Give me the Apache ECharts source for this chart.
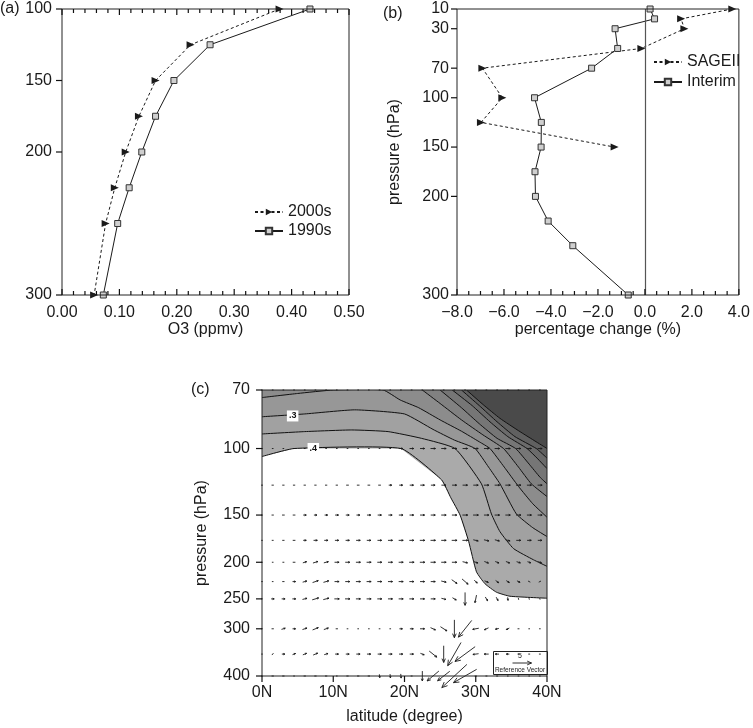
<!DOCTYPE html>
<html>
<head>
<meta charset="utf-8">
<script src="https://cdn.jsdelivr.net/npm/echarts@6/dist/echarts.min.js"></script>
<style>
html,body{margin:0;padding:0;background:#fff}
#chart{width:753px;height:728px}
</style>
</head>
<body>
<div id="chart"></div>
<script>
// (a) ozone profile
var pLevelsA = [100,125,150,175,200,225,250,300];
var o3_2000s = [0.379,0.224,0.163,0.134,0.111,0.092,0.076,0.056];
var o3_1990s = [0.432,0.258,0.195,0.163,0.139,0.117,0.097,0.072];
var xTicksA = [0,0.1,0.2,0.3,0.4,0.5];
var yTicksA = [100,150,200,300];

// (b) percentage change
var pLevelsSage = [10,20,30,50,70,100,125,150];
var changeSage = [3.72,1.54,1.68,-0.15,-6.92,-6.07,-6.98,-1.29];
var pLevelsInterim = [10,20,30,50,70,100,125,150,175,200,225,250,300];
var changeInterim = [0.22,0.41,-1.27,-1.16,-2.27,-4.70,-4.41,-4.42,-4.68,-4.66,-4.12,-3.07,-0.71];
var xTicksB = [-8,-6,-4,-2,0,2,4];
var yTicksB = [10,30,70,100,150,200,300];

// (c) contour lines, [latitude, hPa]
var contourLevels = [0.40,0.35,0.30,0.25,0.20,0.15,0.10,0.05,0.00];
var contour1 = [[0,105],[4.5,100],[19.5,100],[25.2,121],[26.5,135],[27.8,150],[29,176],[30.1,212],[31.3,228],[32.9,240],[34.8,246],[40,249]];
var contour2 = [[0,91.5],[6,90.2],[12.6,89.3],[17.7,90.2],[22.4,94],[27.1,100],[30.8,124],[32.2,149],[33.4,166],[35.3,184],[38.1,197],[40,205]];
var contour3 = [[0,82.4],[6,81],[13,79],[20,81],[24,89],[27,95],[29.9,100],[31.8,112],[33.4,124],[35.7,149],[38,162],[40,171]];
var contour4 = [[0,73.3],[5,71.5],[10,70],[17,70],[19.4,74.4],[22,78],[25,84],[28,90],[30.5,96],[32,100],[34,112],[36,126],[38,140],[40,152]];
var contour5 = [[22.5,70],[25,76],[28,84],[31,92],[33.9,100],[36,112],[37.8,124],[40,134]];
var contour6 = [[25,70],[28,78],[30.5,86],[33,94],[35.6,100],[37.5,110],[39,119],[40,124]];
var contour7 = [[26.7,70],[29.5,77],[32,85],[34.5,93],[37.2,100],[38.6,106],[40,113]];
var contour8 = [[28,70],[30.5,77],[33,85],[35.5,93],[38.5,100],[40,106]];
var contour9 = [[28.7,70],[31.1,76.7],[33.4,83.2],[36.2,90.2],[40,100]];
var contourLabels = [[4.3,82,'.3'],[7.2,100,'.4']];
var xTicksC = [0,10,20,30,40];
var yTicksC = [70,100,150,200,250,300,400];

// (c) wind vectors: columns every 1.5 degrees, one row per level
var vecLats = [0,1.5,3,4.5,6,7.5,9,10.5,12,13.5,15,16.5,18,19.5,21,22.5,24,25.5,27,28.5,30,31.5,33,34.5,36,37.5,39];
var vecLevels = [70,100,125,150,175,200,225,250,300,350,400];
var u070 = [0.3,0.3,0.3,0.3,0.3,0.3,0.3,0.3,0.3,0.3,0.3,0.3,0.3,0.3,0.3,0.3,0.3,0.3,0.3,0.3,0.3,0.3,0.3,0.3,0.3,0.3,0.3];
var w070 = [0,0,0,0,0,0,0,0,0,0,0,0,0,0,0,0,0,0,0,0,0,0,0,0,0,0,0];
var u100 = [0.3,0.3,0.3,0.3,0.3,0.3,0.3,0.3,0.3,0.3,0.3,0.3,0.3,1.0,1.1,1.2,1.3,1.3,1.3,1.3,1.3,1.3,1.3,1.3,1.2,1.2,1.2];
var w100 = [0,0,0,0,0,0,0,0,0,0,0,0,0,0,0,0,0,0,0,0,0,0,0,0,0,0,0];
var u125 = [0.5,0.6,0.6,0.6,0.6,0.6,0.6,0.6,0.7,0.7,0.7,0.7,0.8,0.9,1.0,1.1,1.1,1.2,1.2,1.3,1.3,1.3,1.3,1.3,1.3,1.2,1.2];
var w125 = [0,0,0,0,0,0,0,0,0,0,0,0,0,0,0,0,0,0,0,0,0,0,0,0,0,0,0];
var u150 = [0.5,0.6,0.7,0.7,0.8,0.8,0.8,0.9,0.9,0.9,1.0,1.0,1.0,1.1,1.1,1.2,1.2,1.3,1.3,1.4,1.4,1.3,1.3,1.3,1.3,1.2,1.2];
var w150 = [0,0,0,0,0,0,0,0,0,0,0,0,0,0,0,0,0,0,0,0,0,0,0,0,0,0,0];
var u175 = [0.3,0.5,0.6,0.7,0.8,1.0,1.0,1.0,1.0,1.1,1.1,1.1,1.2,1.2,1.2,1.3,1.3,1.3,1.4,1.4,1.3,1.3,1.2,1.2,1.2,1.1,1.1];
var w175 = [0,0,0,0,0,0,0,0,0,0,0,0,0,0,0,0,0,0,0,0,-0.3,-0.3,-0.3,-0.3,0,0,0];
var u200 = [0.3,0.4,0.5,0.7,1.0,1.3,1.2,1.2,1.2,1.2,1.2,1.2,1.2,1.2,1.3,1.3,1.3,1.3,1.3,1.3,1.2,1.1,1.0,1.0,1.0,0.9,0.9];
var w200 = [0,0,0,0,0.3,0.4,0.3,0,0,0,0,0,0,0,0,0,0,0,0,-0.3,-0.4,-0.4,-0.4,-0.4,-0.3,-0.3,-0.3];
var u225 = [0.3,0.4,0.6,0.8,1.1,1.5,1.4,1.2,1.2,1.2,1.2,1.2,1.2,1.2,1.2,1.2,1.2,1.3,1.4,1.6,0.8,1.0,0.8,0.8,0.8,0.6,0.6];
var w225 = [0,0,0,0,0.3,0.5,0.4,0,0,0,0,0,0,0,0,0,0,-0.3,-1.0,-1.4,-0.8,-0.4,-0.6,-0.5,-0.4,-0.3,0.3];
var u250 = [0.3,0.8,0.9,0.9,1.2,1.7,1.5,1.3,1.3,1.2,1.2,1.2,1.2,1.2,1.2,1.2,1.2,1.2,1.0,0,-0.4,0.6,0.5,0.1,0.1,0.1,0.1];
var w250 = [0,0,0,0,0.3,0.5,0.4,0,0,0,0,0,0,0,0,0,0,-0.3,-0.6,-3.4,-2.0,-1.0,-0.9,-0.8,-0.5,-0.4,-0.4];
var u300 = [0.3,0.6,1.0,0.8,1.2,1.5,1.2,0.6,0.3,0.3,0.3,0.3,0.3,0.8,0.9,1.2,1.3,1.7,0,-3.5,-1.6,-1.1,-0.9,-0.8,-0.5,-0.3,-0.3];
var w300 = [0,0,0.3,0,0.4,0.6,0.4,0,0,0,0,0,0,0,0,0,-0.6,-1.1,-4.7,-4.4,-0.3,-0.5,-0.2,-0.4,0,0,0];
var u350 = [0.3,0.4,0.8,0.8,1.0,1.2,1.0,0.9,0.9,1.0,1.0,1.0,1.0,1.0,1.0,1.0,2.0,0,-3.5,-5.3,-1.5,-1.2,-1.0,-0.8,-0.5,-0.5,-0.5];
var w350 = [0,0.5,0,0.3,0.4,0.5,0.3,0,0,0,0,0,0,0,0,-0.4,-1.6,-4.4,-6.1,-3.9,-0.2,0,0,0,0,0,0];
var u400 = [0.3,0.6,0.6,0.3,0.6,0.6,0.6,0.3,0.6,0.6,0.6,0.1,0.1,0.1,0.5,0,-3.1,-3.2,-6.6,-6.1,-0.6,-0.5,-0.5,-0.4,-0.4,-0.4,-0.4];
var w400 = [0,0,0,0,0,0,0,0,0,0,0,-0.9,-1.0,-1.1,0,-2.6,-2.6,-2.5,-6.1,-3.5,0,0,0,0,0,0,0];
var refVectorValue = 5;

var FONT = 'Liberation Sans';
var INK = '#1a1a1a';
var VEC_SCALE = 3.8; // px per unit
var SHADES = ['#aaaaaa','#a1a1a1','#979797','#8c8c8c','#818181','#767676','#6b6b6b','#606060','#4a4a4a'];

var contourLines = [contour1,contour2,contour3,contour4,contour5,contour6,contour7,contour8,contour9];
var uRows = [u070,u100,u125,u150,u175,u200,u225,u250,u300,u350,u400];
var wRows = [w070,w100,w125,w150,w175,w200,w225,w250,w300,w350,w400];

function zip(xs, ys){
	var out = [];
	for (var i = 0; i < xs.length; i++) out.push([xs[i], ys[i]]);
	return out;
}

var vecData = [];
for (var r = 0; r < vecLevels.length; r++){
	for (var i = 0; i < vecLats.length; i++){
		vecData.push([vecLats[i], vecLevels[r], uRows[r][i], wRows[r][i]]);
	}
}

// tick marks: [x, y, dx, dy] anchored on the frame, drawn via the axes' scales
function subdivide(ticks, n){
	var out = [];
	for (var i = 0; i < ticks.length - 1; i++){
		for (var k = 1; k < n; k++) out.push(ticks[i] + (ticks[i+1] - ticks[i]) * k / n);
	}
	return out;
}
function xMarks(vals, yAt, dy){ return vals.map(function(v){ return [v, yAt, 0, dy]; }); }
function yMarks(vals, xAt, dx){ return vals.map(function(v){ return [xAt, v, dx, 0]; }); }

var marksA = [].concat(
	xMarks(xTicksA, 300, -6), xMarks(subdivide(xTicksA, 5), 300, -4),
	xMarks(xTicksA, 100, 6), xMarks(subdivide(xTicksA, 5), 100, 4),
	yMarks(yTicksA, 0, -6));
var marksB = [].concat(
	xMarks(xTicksB, 300, -6), xMarks(subdivide(xTicksB, 4), 300, -4),
	yMarks(yTicksB, -8, -6));
var marksC = [].concat(xMarks(xTicksC, 400, 6), yMarks(yTicksC, 0, -6));

var triRight = 'path://M0,0L10,5L0,10Z';

function arrowShapes(cx, cy, dx, dy, lw){
	var len = Math.sqrt(dx*dx + dy*dy);
	if (len < 1.6){
		var s = len > 0 ? 1.6/len : 0;
		if (s){ dx *= s; dy *= s; } else { dx = 1.6; dy = 0; }
		len = 1.6;
	}
	var x0 = cx - dx/2, y0 = cy - dy/2, x1 = cx + dx/2, y1 = cy + dy/2;
	var kids = [{type:'line', shape:{x1:x0,y1:y0,x2:x1,y2:y1}, style:{stroke:INK,lineWidth:lw}}];
	if (len > 3){
		var hl = Math.min(Math.max(len*0.25, 1.8), 6);
		var ang = Math.atan2(dy, dx), a = 0.42;
		kids.push({type:'polyline', shape:{points:[
			[x1 - hl*Math.cos(ang - a), y1 - hl*Math.sin(ang - a)],
			[x1, y1],
			[x1 - hl*Math.cos(ang + a), y1 - hl*Math.sin(ang + a)]
		]}, style:{stroke:INK,lineWidth:lw,fill:null}});
	}
	return kids;
}

function renderContour(params, api){
	var k = params.dataIndex;
	var pts = contourLines[k].map(function(d){ return api.coord(d); });
	var poly = pts.concat([api.coord([40,70]), api.coord([0,70])]);
	return {type:'group', children:[
		{type:'polygon', shape:{points:poly}, style:{fill:SHADES[k]}},
		{type:'polyline', shape:{points:pts, smooth:0.15}, style:{stroke:'#111',lineWidth:1,fill:null}}
	]};
}

function renderVector(params, api){
	var c = api.coord([api.value(0), api.value(1)]);
	var dx = api.value(2) * VEC_SCALE, dy = -api.value(3) * VEC_SCALE;
	return {type:'group', children: arrowShapes(c[0], c[1], dx, dy, 0.9)};
}

function renderTick(params, api){
	var c = api.coord([api.value(0), api.value(1)]);
	var x = c[0], y = c[1];
	var dx = api.value(2), dy = api.value(3);
	return {type:'rect', shape:{
		x: dx === 0 ? x - 0.6 : Math.min(x, x + dx),
		y: dy === 0 ? y - 0.6 : Math.min(y, y + dy),
		width: dx === 0 ? 1.2 : Math.abs(dx),
		height: dy === 0 ? 1.2 : Math.abs(dy)
	}, style:{fill:'#111'}};
}

function renderLabel(params, api){
	var c = api.coord([api.value(0), api.value(1)]);
	return {type:'text', x:c[0], y:c[1], style:{
		text: contourLabels[params.dataIndex][2], fontSize:9, fontWeight:'bold', fontFamily:FONT, fill:'#111',
		align:'center', verticalAlign:'middle', backgroundColor:'#fff', padding:[1,2]
	}};
}

function tickSeries(xi, yi, data){
	return {type:'custom', xAxisIndex:xi, yAxisIndex:yi, renderItem:renderTick, clip:false, z:11, silent:true,
		encode:{x:0, y:1}, dimensions:['x','y','dx','dy'], data:data};
}

var axisText = {fontSize:16, fontFamily:FONT, color:INK};
var nameText = {fontSize:16, fontFamily:FONT, color:INK};
var noLine = {show:false};
var noTick = {show:false};

var refLen = refVectorValue * VEC_SCALE;
var refX = 520, refY = 663;

var option = {
	animation:false,
	backgroundColor:'#fff',
	textStyle:{fontFamily:FONT},
	grid:[
		{left:62, top:9, width:287, height:286, show:true, borderColor:'#222', borderWidth:1, z:10},
		{left:457, top:9, width:285, height:286, show:true, borderColor:'#222', borderWidth:1, z:10},
		{left:262, top:390, width:285, height:286, show:true, borderColor:'#222', borderWidth:1, z:10}
	],
	legend:[
		{data:['2000s','1990s'], orient:'vertical', left:254, top:204, padding:0, itemGap:3,
		 itemWidth:28, itemHeight:8, selectedMode:false, textStyle:{fontSize:16, fontFamily:FONT, color:INK}},
		{data:['SAGEII','Interim'], orient:'vertical', left:653, top:54, padding:0, itemGap:4,
		 itemWidth:28, itemHeight:8, selectedMode:false, textStyle:{fontSize:16, fontFamily:FONT, color:INK}}
	],
	xAxis:[
		{type:'value', gridIndex:0, min:0, max:0.5, interval:0.1, name:'O3 (ppmv)', nameLocation:'middle', nameGap:19,
		 nameTextStyle:nameText, axisLine:noLine, axisTick:noTick, splitLine:{show:false},
		 axisLabel:Object.assign({margin:10, formatter:function(v){ return v.toFixed(2); }}, axisText)},
		{type:'value', gridIndex:1, min:-8, max:4, interval:2, name:'percentage change (%)', nameLocation:'middle', nameGap:19,
		 nameTextStyle:nameText, axisLine:noLine, axisTick:noTick, splitLine:{show:false},
		 axisLabel:Object.assign({margin:10, formatter:function(v){ return v.toFixed(1).replace('-','\u2212'); }}, axisText)},
		{type:'value', gridIndex:2, min:0, max:40, interval:10, name:'latitude (degree)', nameLocation:'middle', nameGap:33,
		 nameTextStyle:nameText, axisLine:noLine, axisTick:noTick, splitLine:{show:false},
		 axisLabel:Object.assign({margin:9, formatter:function(v){ return v + 'N'; }}, axisText)}
	],
	yAxis:[
		{type:'value', gridIndex:0, min:100, max:300, inverse:true, axisLine:noLine, axisTick:noTick, splitLine:{show:false},
		 axisLabel:Object.assign({margin:10, customValues:yTicksA}, axisText)},
		{type:'value', gridIndex:1, min:10, max:300, inverse:true, name:'pressure (hPa)', nameLocation:'middle', nameGap:54,
		 nameTextStyle:nameText, axisLine:noLine, axisTick:noTick, splitLine:{show:false},
		 axisLabel:Object.assign({margin:8, customValues:yTicksB}, axisText)},
		{type:'log', logBase:10, gridIndex:2, min:70, max:400, inverse:true, name:'pressure (hPa)', nameLocation:'middle', nameGap:52,
		 nameTextStyle:nameText, axisLine:noLine, axisTick:noTick, splitLine:{show:false},
		 axisLabel:Object.assign({margin:12, customValues:yTicksC}, axisText)}
	],
	series:[
		{name:'2000s', type:'line', xAxisIndex:0, yAxisIndex:0, data:zip(o3_2000s, pLevelsA),
		 symbol:triRight, symbolSize:[8,7], lineStyle:{color:INK, width:1, type:[3,2.5]},
		 itemStyle:{color:INK}},
		{name:'1990s', type:'line', xAxisIndex:0, yAxisIndex:0, data:zip(o3_1990s, pLevelsA),
		 symbol:'rect', symbolSize:6, lineStyle:{color:INK, width:1},
		 itemStyle:{color:'#cfcfcf', borderColor:'#333', borderWidth:1}},
		{name:'SAGEII', type:'line', xAxisIndex:1, yAxisIndex:1, data:zip(changeSage, pLevelsSage),
		 symbol:triRight, symbolSize:[8,7], lineStyle:{color:INK, width:1, type:[3,2.5]},
		 itemStyle:{color:INK}},
		{name:'Interim', type:'line', xAxisIndex:1, yAxisIndex:1, data:zip(changeInterim, pLevelsInterim),
		 symbol:'rect', symbolSize:6, lineStyle:{color:INK, width:1},
		 itemStyle:{color:'#cfcfcf', borderColor:'#333', borderWidth:1},
		 markLine:{silent:true, symbol:'none', label:{show:false}, lineStyle:{color:'#555', type:'solid', width:1.2},
		  data:[{xAxis:0}]}},
		{name:'ozone', type:'custom', xAxisIndex:2, yAxisIndex:2, renderItem:renderContour, clip:true, z:1,
		 data:contourLevels.map(function(v){ return [v]; })},
		{name:'wind', type:'custom', xAxisIndex:2, yAxisIndex:2, renderItem:renderVector, clip:false, z:3,
		 data:vecData},
		{name:'labels', type:'custom', xAxisIndex:2, yAxisIndex:2, renderItem:renderLabel, z:4,
		 data:contourLabels.map(function(d){ return [d[0], d[1]]; })},
		tickSeries(0, 0, marksA),
		tickSeries(1, 1, marksB),
		tickSeries(2, 2, marksC)
	],
	graphic:[
		{type:'text', left:0, top:1, style:{text:'(a)', fontSize:16, fontFamily:FONT, fill:INK}},
		{type:'text', left:383, top:6, style:{text:'(b)', fontSize:16, fontFamily:FONT, fill:INK}},
		{type:'text', left:191, top:382, style:{text:'(c)', fontSize:16, fontFamily:FONT, fill:INK}},
		{type:'group', z:20, children:[
			{type:'rect', shape:{x:493.5, y:651.5, width:54, height:23}, style:{fill:'#fff', stroke:'#222', lineWidth:1}},
			{type:'text', x:refX, y:656, style:{text:String(refVectorValue), fontSize:7, fontFamily:FONT, fill:INK, align:'center', verticalAlign:'middle'}},
			{type:'group', children:arrowShapes(refX + 2, refY, refLen, 0, 0.9)},
			{type:'text', x:refX, y:670, style:{text:'Reference Vector', fontSize:6.5, fontFamily:FONT, fill:INK, align:'center', verticalAlign:'middle'}}
		]}
	]
};

var chart = echarts.init(document.getElementById('chart'), null, {renderer:'canvas'});
chart.setOption(option);
</script>
</body>
</html>
